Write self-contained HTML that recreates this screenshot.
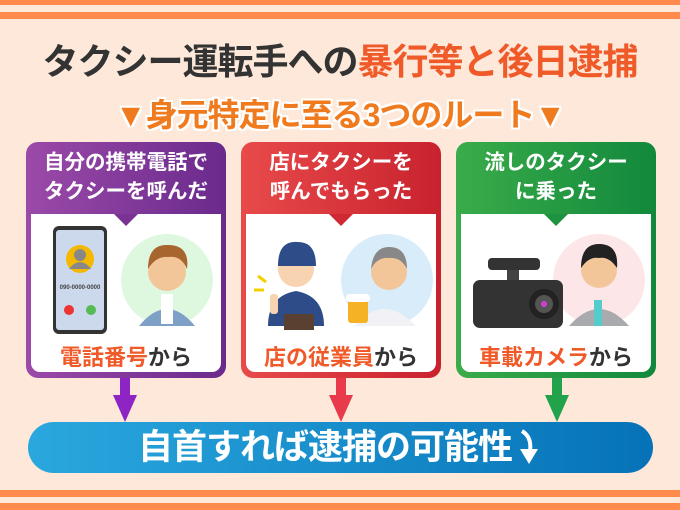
<!DOCTYPE html>
<html><head><meta charset="utf-8"><style>
*{margin:0;padding:0;box-sizing:border-box}
body{width:680px;height:510px;background:#fde8da;position:relative;overflow:hidden;font-family:"Liberation Sans","Noto Sans CJK JP",sans-serif;font-weight:bold}
.s{position:absolute;left:0;width:680px;background:#ff8a4c}
.abs{position:absolute}
.title{left:0;width:680px;top:33px;text-align:center;font-size:36px;color:#333;letter-spacing:-1px;white-space:nowrap}
.title span{color:#ef5a28}
.sub{left:0;width:680px;top:90px;text-align:center;font-size:32px;color:#f07a1e;white-space:nowrap;letter-spacing:-1px;text-shadow:2px 0 #fff,-2px 0 #fff,0 2px #fff,0 -2px #fff,2px 2px #fff,-2px -2px #fff,2px -2px #fff,-2px 2px #fff}
.panel{position:absolute;top:142px;width:200px;height:236px;border-radius:12px}
.head{position:absolute;left:0;top:6px;width:200px;text-align:center;color:#fff;font-size:20.5px;line-height:29px;white-space:nowrap}
.inner{position:absolute;left:5px;top:72px;width:190px;height:158px;background:#fff;border-radius:0 0 9px 9px}
.notch{position:absolute;top:72px;left:88px;width:0;height:0;border-left:12px solid transparent;border-right:12px solid transparent;border-top:12px solid}
.lab{position:absolute;left:0;width:190px;top:126px;text-align:center;font-size:22px;color:#333;white-space:nowrap}
.lab span{color:#ef5a28}
.arr{position:absolute;top:378px;width:24px;height:44px}
</style></head><body>
<div class="s" style="top:0;height:5px"></div>
<div class="s" style="top:12px;height:7px"></div>
<div class="s" style="top:490px;height:7px"></div>
<div class="s" style="top:503px;height:7px"></div>
<div class="abs title">タクシー運転手への<span>暴行等と後日逮捕</span></div>
<div class="abs sub">▼身元特定に至る3つのルート▼</div>

<div class="panel" style="left:26px;background:linear-gradient(90deg,#9b4aa8,#6a2a8c)">
<div class="head">自分の携帯電話で<br>タクシーを呼んだ</div>
<div class="inner">
<svg class="abs" style="left:0;top:0" width="190" height="125">
<rect x="22" y="12" width="54" height="108" rx="6" fill="#333"/><rect x="25" y="16" width="48" height="100" rx="3" fill="#ccd8ec"/>
<circle cx="49" cy="45" r="14" fill="#f5b800"/><circle cx="49" cy="41" r="6" fill="#888"/><path d="M38 55 q11-14 22 0z" fill="#888"/>
<circle cx="38" cy="96" r="5" fill="#e33"/><circle cx="60" cy="96" r="5" fill="#5b5"/>
<text x="49" y="75" font-size="6" text-anchor="middle" fill="#444">090-0000-0000</text>
<circle cx="136" cy="66" r="46" fill="#def8e0"/>
<path d="M108 112 q28-34 56 0z" fill="#7fa0c6"/><rect x="130" y="80" width="12" height="30" fill="#fff"/>
<circle cx="136" cy="58" r="19" fill="#f3c69a"/><path d="M117 55 q0-25 20-24 q22 0 19 24 q-6-14-19-12 q-12-1-20 12z" fill="#a8652e"/>
</svg>
<div class="lab"><span>電話番号</span>から</div></div>
<div class="notch" style="border-top-color:#7a3294"></div>
</div>

<div class="panel" style="left:241px;background:linear-gradient(90deg,#e84a4a,#c8222e)">
<div class="head">店にタクシーを<br>呼んでもらった</div>
<div class="inner">
<svg class="abs" style="left:0;top:0" width="190" height="125">
<path d="M22 112 q0-30 28-35 q28 5 28 35z" fill="#2e4c88"/><rect x="38" y="100" width="30" height="16" fill="#5a4030"/>
<circle cx="50" cy="55" r="18" fill="#f7d3b2"/><path d="M32 52 q0-26 20-24 q18 0 18 24z" fill="#2e4c88"/>
<path d="M20 68 l-8-6 M18 76 l-10 0" stroke="#f5d000" stroke-width="3"/>
<rect x="24" y="80" width="8" height="20" rx="3" fill="#f7d3b2"/>
<circle cx="141" cy="66" r="46" fill="#d8ecfa"/>
<path d="M108 112 q30-34 62 0z" fill="#f2f2f6"/><circle cx="143" cy="58" r="18" fill="#f3c69a"/><path d="M125 55 q2-22 18-22 q18 0 18 22 q-6-12-18-11 q-12-1-18 11z" fill="#888"/>
<rect x="102" y="85" width="20" height="24" rx="3" fill="#f6b225"/><rect x="100" y="80" width="24" height="8" rx="4" fill="#fff"/>
</svg>
<div class="lab"><span>店の従業員</span>から</div></div>
<div class="notch" style="border-top-color:#cf2a33"></div>
</div>

<div class="panel" style="left:456px;background:linear-gradient(90deg,#3aac4a,#12883c)">
<div class="head">流しのタクシー<br>に乗った</div>
<div class="inner">
<svg class="abs" style="left:0;top:0" width="190" height="125">
<circle cx="138" cy="66" r="46" fill="#fde6e8"/>
<path d="M108 112 q30-34 60 0z" fill="#a8aaae"/><rect x="133" y="86" width="8" height="26" fill="#5cc"/>
<circle cx="138" cy="56" r="18" fill="#f3c69a"/><path d="M120 54 q0-24 18-24 q20 0 18 24 q-8-12-18-10 q-10-2-18 10z" fill="#222"/>
<rect x="27" y="44" width="52" height="12" rx="4" fill="#333"/><rect x="46" y="56" width="12" height="10" fill="#444"/>
<rect x="12" y="66" width="90" height="48" rx="7" fill="#333"/><circle cx="83" cy="90" r="15" fill="#222"/><circle cx="83" cy="90" r="9" fill="#555"/><circle cx="83" cy="90" r="3" fill="#c4c"/>
</svg>
<div class="lab"><span>車載カメラ</span>から</div></div>
<div class="notch" style="border-top-color:#1d923f"></div>
</div>

<svg class="arr" style="left:113px" viewBox="0 0 24 44"><rect x="7" y="0" width="10" height="18" fill="#8e24c4"/><path d="M0 17 h24 l-12 27z" fill="#8e24c4"/></svg>
<svg class="arr" style="left:329px" viewBox="0 0 24 44"><rect x="7" y="0" width="10" height="18" fill="#e83a4a"/><path d="M0 17 h24 l-12 27z" fill="#e83a4a"/></svg>
<svg class="arr" style="left:545px" viewBox="0 0 24 44"><rect x="7" y="0" width="10" height="18" fill="#22a24a"/><path d="M0 17 h24 l-12 27z" fill="#22a24a"/></svg>

<div class="abs" style="left:28px;top:422px;width:625px;height:51px;border-radius:26px;background:linear-gradient(90deg,#2aa8de,#0672b8)"></div>
<div class="abs" style="left:0;width:680px;top:422px;height:51px;color:#fff;font-size:35px;text-align:center;line-height:51px;white-space:nowrap;letter-spacing:-1px">自首すれば逮捕の可能性<svg width="26" height="36" viewBox="0 0 26 36" style="vertical-align:-6px;margin-left:4px"><path d="M6 2 q10 6 8 20" stroke="#fff" stroke-width="4" fill="none"/><path d="M4 20 h18 l-9 15z" fill="#fff"/></svg></div>
</body></html>
